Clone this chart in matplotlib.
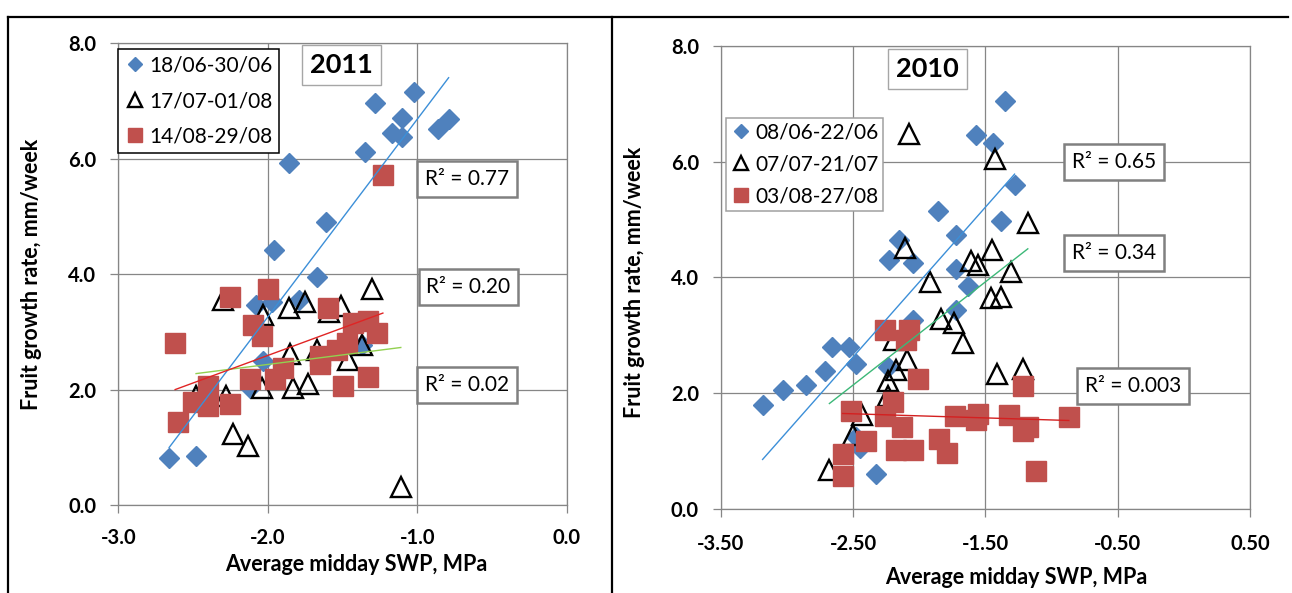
import numpy as np
import matplotlib.pyplot as plt
from matplotlib.lines import Line2D

plt.rcParams['font.family'] = ['Lato', 'DejaVu Sans']

# ---- 2011 data ----
x11_jun = [-2.66, -2.48, -2.12, -2.03, -2.08, -1.97, -1.79, -1.96, -1.86, -1.67,
           -1.61, -1.37, -1.35, -1.28, -1.17, -1.10, -1.10, -1.02, -0.86, -0.79]
y11_jun = [0.81, 0.85, 2.03, 2.49, 3.47, 3.52, 3.55, 4.41, 5.92, 3.95,
           4.91, 2.78, 6.12, 6.96, 6.45, 6.71, 6.37, 7.15, 6.51, 6.68]
x11_jul = [-2.30, -2.03, -1.86, -1.75, -1.59, -1.51, -1.30, -1.85, -1.67, -1.46,
           -1.37, -2.04, -1.83, -1.73, -2.28, -2.48, -2.23, -2.13, -1.11]
y11_jul = [3.55, 3.30, 3.41, 3.52, 3.35, 3.44, 3.75, 2.61, 2.69, 2.52,
           2.78, 2.03, 2.03, 2.09, 1.89, 1.89, 1.23, 1.03, 0.31]
x11_aug = [-2.25, -2.00, -2.62, -2.10, -2.04, -1.60, -1.43, -1.33, -1.27, -1.47,
           -1.54, -1.65, -1.65, -1.90, -1.95, -2.12, -1.33, -1.50, -2.40, -2.50,
           -2.40, -2.25, -2.60, -1.23]
y11_aug = [3.61, 3.75, 2.81, 3.12, 2.92, 3.41, 3.15, 3.18, 2.98, 2.81,
           2.69, 2.58, 2.44, 2.38, 2.18, 2.18, 2.21, 2.06, 2.06, 1.78,
           1.72, 1.75, 1.43, 5.72]
labels11 = ['18/06-30/06', '17/07-01/08', '14/08-29/08']
r2_11 = ['0.77', '0.20', '0.02']

# ---- 2010 data ----
x10_jun = [-3.185, -3.03, -2.86, -2.71, -2.66, -2.53, -2.48, -2.24, -2.05, -1.72,
           -2.48, -2.45, -2.33, -2.23, -2.15, -2.05, -1.86, -1.72, -1.72, -1.63,
           -1.57, -1.44, -1.38, -1.35, -1.28]
y10_jun = [1.79, 2.05, 2.15, 2.39, 2.80, 2.80, 2.50, 2.46, 3.27, 3.43,
           1.25, 1.06, 0.60, 4.31, 4.64, 4.25, 5.15, 4.74, 4.15, 3.85,
           6.46, 6.32, 4.97, 7.05, 5.59]
x10_jul = [-2.08, -1.43, -1.18, -2.11, -1.45, -1.61, -1.56, -1.31, -1.92, -1.46,
           -1.38, -1.84, -1.74, -1.67, -2.19, -2.09, -2.18, -2.24, -2.24, -2.43,
           -2.50, -2.68, -1.41, -1.22]
y10_jul = [6.48, 6.05, 4.95, 4.51, 4.48, 4.28, 4.22, 4.09, 3.93, 3.65,
           3.67, 3.29, 3.21, 2.86, 2.92, 2.58, 2.40, 2.22, 1.95, 1.63,
           1.28, 0.68, 2.34, 2.42]
x10_aug = [-2.26, -2.08, -2.10, -2.01, -2.20, -2.52, -2.26, -2.13, -2.40, -2.18,
           -2.05, -1.85, -1.79, -2.58, -2.58, -1.73, -1.56, -1.57, -1.32, -1.22,
           -1.18, -1.22, -1.12, -0.87]
y10_aug = [3.10, 3.09, 2.92, 2.25, 1.84, 1.70, 1.61, 1.42, 1.18, 1.02,
           1.02, 1.21, 0.97, 0.95, 0.57, 1.61, 1.64, 1.53, 1.63, 1.35,
           1.41, 2.12, 0.66, 1.59]
labels10 = ['08/06-22/06', '07/07-21/07', '03/08-27/08']
r2_10 = ['0.65', '0.34', '0.003']

BLUE = '#4F81BD'
RED = '#C0504D'
GRID = '#868686'


def add_fit(ax, x, y, color):
    b, a = np.polyfit(x, y, 1)
    xs = np.array([min(x), max(x)])
    ax.plot(xs, b * xs + a, color=color, lw=1.0, zorder=5)


def draw_panel(ax, xs, ys, labels, fitcols):
    ax.plot(xs[0], ys[0], ls='none', marker='D', ms=10.5, mfc=BLUE, mec=BLUE,
            zorder=2, label=labels[0])
    ax.plot(xs[1], ys[1], ls='none', marker='^', ms=14.5, mfc='none', mec='black',
            mew=1.7, zorder=3, label=labels[1])
    ax.plot(xs[2], ys[2], ls='none', marker='s', ms=14, mfc=RED, mec=RED,
            zorder=4, label=labels[2])
    for x, y, c in zip(xs, ys, fitcols):
        add_fit(ax, x, y, c)


def style_axes(ax, xlim, xticks, fmt):
    ax.set_xlim(xlim)
    ax.set_ylim(0, 8)
    ax.set_xticks(xticks)
    ax.set_yticks([0, 2, 4, 6, 8])
    ax.set_xticklabels([fmt % v for v in xticks])
    ax.set_yticklabels(['%.1f' % v for v in [0, 2, 4, 6, 8]])
    ax.grid(True, color=GRID, lw=0.9, zorder=0)
    ax.set_axisbelow(True)
    for s in ax.spines.values():
        s.set_color(GRID)
        s.set_linewidth(0.9)
    ax.tick_params(direction='out', length=5.8, width=0.9, color=GRID,
                   labelsize=14.5)
    ax.tick_params(axis='y', pad=10)
    ax.tick_params(axis='x', pad=11)
    plt.setp(ax.get_xticklabels() + ax.get_yticklabels(), fontweight='bold')


def r2_box(ax, x, y, txt):
    ax.text(x, y, 'R\u00b2 = ' + txt,
            transform=ax.transAxes, ha='center', va='center', fontsize=15,
            zorder=6, bbox=dict(boxstyle='square,pad=0.38', fc='white',
                                ec='#808080', lw=1.8))


def year_box(ax, x, y, txt):
    ax.text(x, y, txt, transform=ax.transAxes, ha='center', va='center',
            fontsize=19.5, fontweight='bold', zorder=6,
            bbox=dict(boxstyle='square,pad=0.3', fc='white', ec='#A6A6A6', lw=1.0))


fig = plt.figure(figsize=(12.92, 5.93), dpi=100)

# left panel: 2011
ax1 = fig.add_axes([0.0916, 0.1484, 0.3470, 0.7786])
draw_panel(ax1, [x11_jun, x11_jul, x11_aug], [y11_jun, y11_jul, y11_aug],
           labels11, ['#3C8FD8', '#92D050', '#E02424'])
style_axes(ax1, (-3, 0), [-3, -2, -1, 0], '%.1f')
ax1.set_xlabel('Average midday SWP, MPa', fontsize=15.5, fontweight='bold')
ax1.set_ylabel('Fruit growth rate, mm/week', fontsize=15.5, fontweight='bold')
ax1.xaxis.set_label_coords(0.53, -0.106)
ax1.yaxis.set_label_coords(-0.17, 0.5)
leg1 = ax1.legend(loc='upper left', bbox_to_anchor=(0.0, 0.987), fontsize=15,
                  markerscale=0.68, frameon=True, fancybox=False, framealpha=1,
                  edgecolor='black', borderaxespad=0, borderpad=0.3,
                  labelspacing=0.75, handlelength=1.0, handletextpad=0.2)
leg1.get_frame().set_linewidth(1.1)
leg1.set_zorder(7)
year_box(ax1, 0.498, 0.953, '2011')
r2_box(ax1, 0.777, 0.706, r2_11[0])
r2_box(ax1, 0.781, 0.472, r2_11[1])
r2_box(ax1, 0.777, 0.259, r2_11[2])

# right panel: 2010
ax2 = fig.add_axes([0.5580, 0.1417, 0.4095, 0.7807])
draw_panel(ax2, [x10_jun, x10_jul, x10_aug], [y10_jun, y10_jul, y10_aug],
           labels10, ['#3C8FD8', '#3CB878', '#D42020'])
style_axes(ax2, (-3.5, 0.5), [-3.5, -2.5, -1.5, -0.5, 0.5], '%.2f')
ax2.tick_params(axis='x', pad=12)
ax2.set_xlabel('Average midday SWP, MPa', fontsize=15.5, fontweight='bold')
ax2.set_ylabel('Fruit growth rate, mm/week', fontsize=15.5, fontweight='bold')
ax2.xaxis.set_label_coords(0.558, -0.126)
ax2.yaxis.set_label_coords(-0.143, 0.49)
leg2 = ax2.legend(loc='upper left', bbox_to_anchor=(0.0095, 0.844), fontsize=15,
                  markerscale=0.68, frameon=True, fancybox=False, framealpha=1,
                  edgecolor='#A0A0A0', borderaxespad=0, borderpad=0.2,
                  labelspacing=0.58, handlelength=1.0, handletextpad=0.2)
leg2.get_frame().set_linewidth(1.1)
leg2.set_zorder(7)
year_box(ax2, 0.39, 0.951, '2010')
r2_box(ax2, 0.7425, 0.75, r2_10[0])
r2_box(ax2, 0.743, 0.553, r2_10[1])
r2_box(ax2, 0.779, 0.266, r2_10[2])

# table borders around the panels
W, H = 1292.0, 593.0
for xy in [((8, 8), (0, 576)), ((8, 1288), (576, 576)), ((611.7, 611.7), (0, 576))]:
    fig.add_artist(Line2D([v / W for v in xy[0]], [v / H for v in xy[1]],
                          color='black', lw=1.6))

fig.savefig('out.png', dpi=100)
